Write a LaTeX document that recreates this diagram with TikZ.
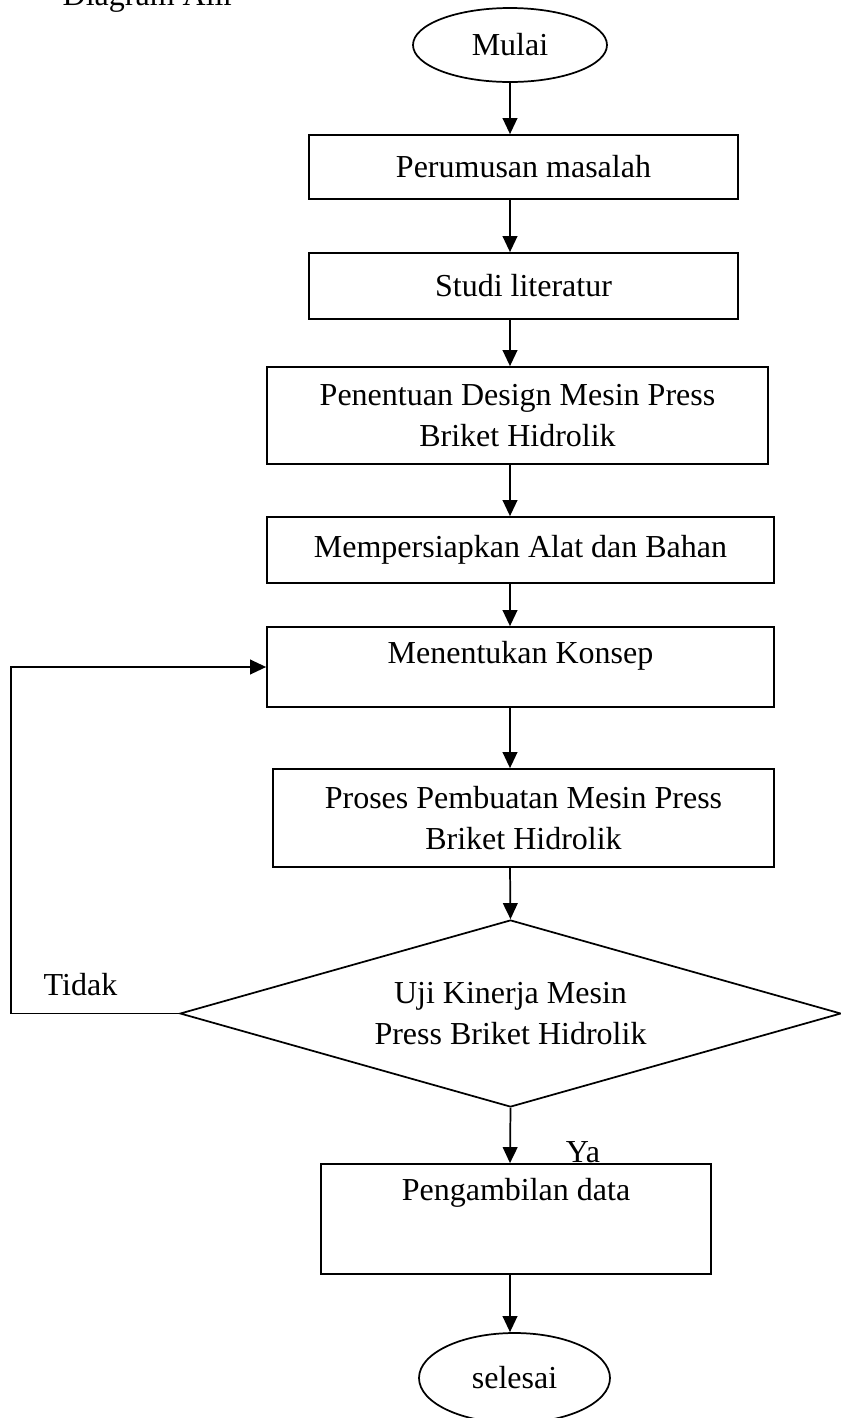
\documentclass[tikz,border=0pt]{standalone}
\usepackage{fontspec}
\setmainfont{Liberation Serif}
\usetikzlibrary{shapes.geometric,arrows.meta}

\begin{document}
\begin{tikzpicture}[x=0.75pt,y=-0.75pt,
  font=\fontsize{24}{31}\selectfont,
  kotak/.style={draw,line width=1.3pt,rectangle,inner sep=0pt,align=center},
  bulat/.style={draw,line width=1.3pt,ellipse,inner sep=0pt},
  belah/.style={draw,line width=1.3pt,diamond,aspect=3.53,inner sep=0pt,align=center},
  panah/.style={line width=1.3pt,-{Triangle[length=12pt,width=11pt]}}]

\useasboundingbox (0,0) rectangle (841,1418);

\node[anchor=base west] (judul) at (58,5) {Diagram Alir};

\node[bulat,minimum width=145.5pt,minimum height=55.5pt] (mulai) at (510,45) {Mulai};
\node[kotak,minimum width=321.75pt,minimum height=48pt] (rumusan) at (523.5,167) {Perumusan masalah};
\node[kotak,minimum width=321.75pt,minimum height=49.5pt] (studi) at (523.5,286) {Studi literatur};
\node[kotak,minimum width=375.75pt,minimum height=72.75pt] (desain) at (517.5,415.5) {Penentuan Design Mesin Press\\Briket Hidrolik};
\node[kotak,minimum width=380.25pt,minimum height=49.5pt] (siap) at (520.5,550) {Mempersiapkan Alat dan Bahan};
\node[kotak,minimum width=380.25pt,minimum height=60pt,text depth=22pt] (konsep) at (520.5,667) {Menentukan Konsep};
\node[kotak,minimum width=375.75pt,minimum height=73.5pt] (buat) at (523.5,818) {Proses Pembuatan Mesin Press\\Briket Hidrolik};
\node[belah,minimum width=495.75pt,minimum height=140.25pt] (uji) at (510.5,1013.5) {Uji Kinerja Mesin\\Press Briket Hidrolik};
\node[kotak,minimum width=292.5pt,minimum height=82.5pt,text depth=44pt] (ambil) at (516,1219) {Pengambilan data};
\node[bulat,minimum width=143.25pt,minimum height=67.5pt] (selesai) at (514.5,1378) {selesai};

\node (tidak) at (80.5,985) {Tidak};
\node (ya) at (583,1152) {Ya};
\coordinate (balik) at (11,1013.5);

\draw[panah] (mulai.south) -- (mulai.south |- rumusan.north);
\draw[panah] (rumusan.south -| mulai) -- (studi.north -| mulai);
\draw[panah] (studi.south -| mulai) -- (desain.north -| mulai);
\draw[panah] (desain.south -| mulai) -- (siap.north -| mulai);
\draw[panah] (siap.south -| mulai) -- (konsep.north -| mulai);
\draw[panah] (konsep.south -| mulai) -- (buat.north -| mulai);
\draw[panah] (buat.south -| mulai) -- (uji.north);
\draw[panah] (uji.south) -- (ambil.north -| mulai);
\draw[panah] (ambil.south -| mulai) -- (selesai.north -| mulai);
\draw[panah] (uji.west) -- (balik) |- (konsep.west);
\end{tikzpicture}
\end{document}
